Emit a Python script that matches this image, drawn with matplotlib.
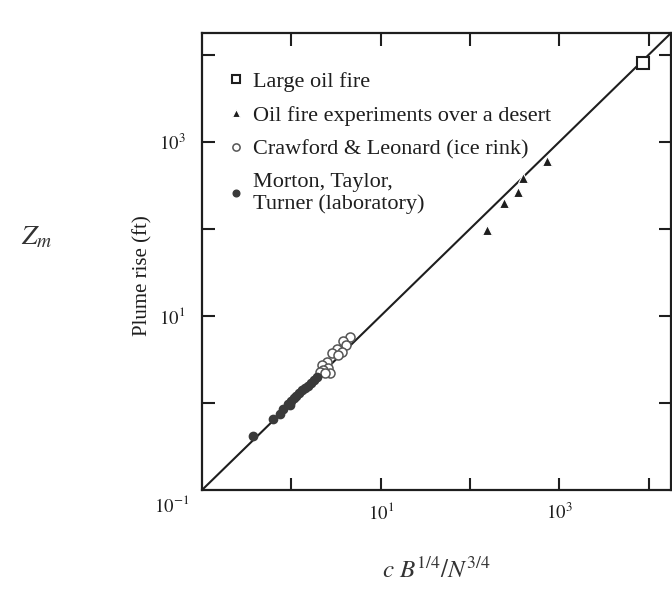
import matplotlib.pyplot as plt
import numpy as np

fontsize = 16
ink = "#1e1e1e"

plt.rcParams['font.family'] = ['Liberation Serif', 'DejaVu Serif']
plt.rcParams['mathtext.fontset'] = 'stix'

# Large oil fire
fire_x = [8600]
fire_y = [8000]

# Oil fire experiments over a desert
desert_x = [728, 392, 345, 240, 155]
desert_y = [602, 384, 265, 198, 97]

# Crawford & Leonard (ice rink)
rink_x = [4.54, 3.79, 4.09, 3.24, 3.69, 2.85, 3.33, 2.51, 2.20, 2.57, 2.26, 2.09, 2.71, 2.38]
rink_y = [5.73, 5.15, 4.63, 4.17, 3.85, 3.75, 3.56, 2.95, 2.73, 2.52, 2.39, 2.27, 2.21, 2.21]

# Morton, Taylor, Turner (laboratory)
lab_x = [0.372, 0.624, 0.746, 0.807, 0.918, 0.966, 0.99, 1.07, 1.13, 1.22, 1.32, 1.42, 1.54, 1.66, 1.79, 1.94]
lab_y = [0.417, 0.654, 0.746, 0.852, 0.973, 0.947, 1.05, 1.14, 1.20, 1.30, 1.41, 1.49, 1.57, 1.69, 1.84, 1.99]

# theory line z = x, corner to corner
fit_x = [0.1, 10**4.25]
fit_y = [0.1, 10**4.25]

decades = [1, 10, 100, 1000, 10000]
tick_labels = ['', r'$10^{1}$', '', r'$10^{3}$', '']

fig = plt.figure(figsize=(6.72, 5.92), dpi=100)
ax = fig.add_axes([0.3006, 0.1723, 0.698, 0.772])

ax.plot(fit_x, fit_y, color=ink, linewidth=1.5, zorder=1)

ax.plot(fire_x, fire_y, 's', ms=8, mfc='white', mec=ink, mew=1.5, label='Large oil fire')
ax.plot(desert_x, desert_y, '^', ms=7, color=ink, mec='white', mew=0.8,
        label='Oil fire experiments over a desert')
ax.plot(rink_x, rink_y, 'o', ms=6.5, mfc='white', mec='#555555', mew=1.1,
        label='Crawford & Leonard (ice rink)')
ax.plot(lab_x, lab_y, 'o', ms=6, color='#3a3a3a', mec='#3a3a3a',
        label='Morton, Taylor,\nTurner (laboratory)')

ax.set_xscale('log')
ax.set_yscale('log')
ax.set_xlim(fit_x[0], fit_x[1])
ax.set_ylim(fit_y[0], fit_y[1])

ax.set_xticks(decades)
ax.set_yticks(decades)
ax.set_xticklabels(tick_labels)
ax.set_yticklabels(tick_labels)
ax.minorticks_off()
ax.tick_params(which='both', direction='in', length=9, width=1.5, color=ink,
               top=True, right=True, labelsize=13.5, labelcolor=ink)
ax.tick_params(axis='x', pad=9)
ax.tick_params(axis='y', pad=12)

for s in ax.spines.values():
    s.set_linewidth(1.6)
    s.set_color(ink)

# shared corner label
ax.annotate(r'$10^{-1}$', xy=(0.1, 0.1), xytext=(-22, -11), textcoords='offset points',
            ha='center', va='center', fontsize=13.5, color=ink)

ax.set_ylabel('Plume rise (ft)', fontsize=15, color=ink)
ax.yaxis.set_label_coords(-0.106, 0.47)

leg = ax.legend(loc='upper left', bbox_to_anchor=(0.0586, 0.916), frameon=False,
                fontsize=fontsize, labelspacing=0.6, handlelength=0.6,
                handletextpad=0.47, markerscale=0.8, borderaxespad=0, borderpad=0)
for t in leg.get_texts():
    t.set_color(ink)
    t.set_linespacing(1.15)

# handwritten annotations on the scan
fig.text(0.054, 0.598, r'$Z_{m}$', fontsize=20, ha='center', va='center', color='#333333')
fig.text(0.650, 0.037, r'$c\ B^{1/4}/N^{3/4}$', fontsize=18, ha='center', va='center', color='#333333')

fig.savefig('out.png', dpi=100)
